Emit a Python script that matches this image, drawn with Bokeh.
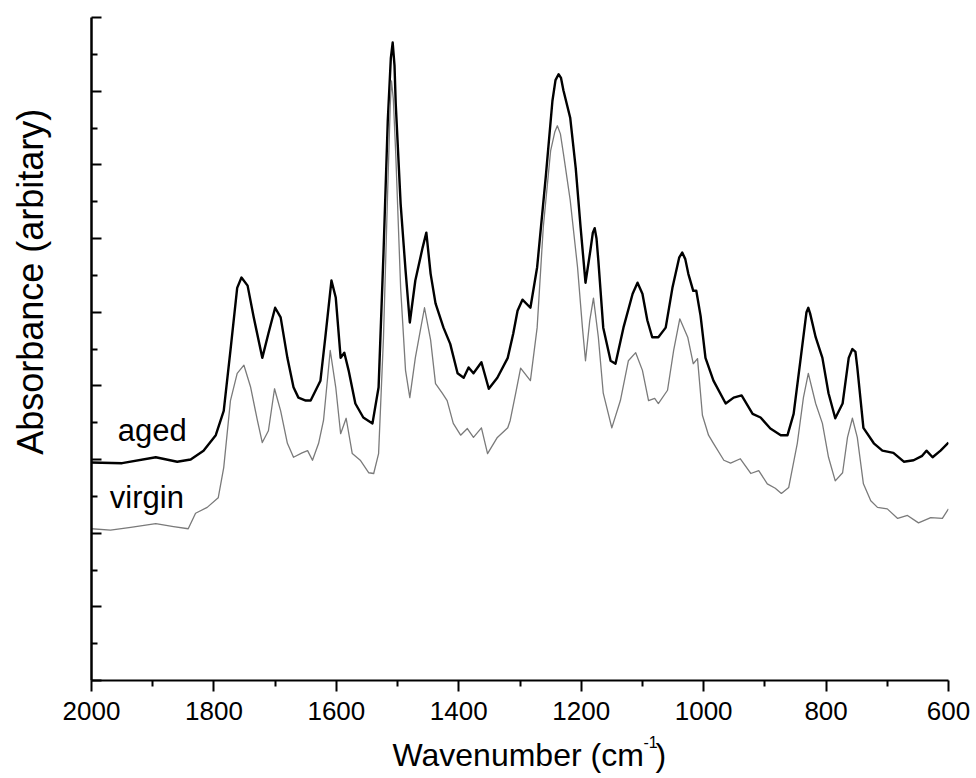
from bokeh.plotting import figure
from bokeh.layouts import row, column
from bokeh.models import Range1d, FixedTicker, Label, CustomJSTickFormatter
from bokeh.embed import file_html
from bokeh.resources import INLINE

# ---- data ----
aged_wn = [2000, 1950, 1895, 1860, 1838, 1817, 1797, 1784, 1773, 1762, 1755, 1745, 1735, 1721,
           1711, 1700, 1691, 1680, 1670, 1662, 1650, 1642, 1626, 1618, 1608, 1601, 1593, 1587,
           1580, 1569, 1556, 1541, 1531, 1523, 1516, 1511, 1508, 1505, 1503, 1495, 1487, 1480,
           1471, 1459, 1453, 1446, 1438, 1425, 1414, 1402, 1392, 1384, 1376, 1363, 1351, 1337,
           1320, 1311, 1304, 1296, 1283, 1272, 1258, 1247, 1242, 1237, 1233, 1229, 1218, 1209,
           1201, 1193, 1185, 1181, 1178, 1175, 1172, 1164, 1152, 1144, 1131, 1116, 1108, 1100,
           1092, 1084, 1074, 1062, 1051, 1040, 1035, 1030, 1025, 1017, 1012, 1005, 997, 984, 964,
           951, 938, 920, 907, 891, 874, 863, 853, 842, 832, 829, 826, 817, 806, 796, 785, 773,
           763, 757, 752, 749, 739, 722, 708, 690, 673, 657, 643, 636, 626, 613, 600]
aged_abs = [2.96, 2.95, 3.03, 2.97, 3.00, 3.12, 3.33, 3.66, 4.48, 5.33, 5.47, 5.36, 4.93, 4.38,
            4.71, 5.06, 4.93, 4.38, 3.98, 3.84, 3.80, 3.80, 4.07, 4.66, 5.43, 5.20, 4.38, 4.45,
            4.21, 3.76, 3.57, 3.49, 3.98, 5.80, 7.60, 8.45, 8.66, 8.35, 7.83, 6.47, 5.57, 4.86,
            5.43, 5.88, 6.08, 5.52, 5.12, 4.79, 4.57, 4.17, 4.11, 4.25, 4.17, 4.32, 3.96, 4.11,
            4.38, 4.71, 5.02, 5.17, 5.06, 5.61, 6.83, 7.87, 8.15, 8.23, 8.18, 8.01, 7.64, 6.96,
            6.15, 5.40, 5.84, 6.08, 6.14, 6.00, 5.70, 4.79, 4.34, 4.30, 4.79, 5.25, 5.40, 5.25,
            4.89, 4.66, 4.66, 4.79, 5.33, 5.74, 5.81, 5.72, 5.52, 5.29, 5.29, 4.95, 4.38, 4.07,
            3.76, 3.84, 3.87, 3.62, 3.57, 3.42, 3.33, 3.33, 3.62, 4.34, 5.00, 5.06, 4.98, 4.66,
            4.38, 3.90, 3.56, 3.76, 4.38, 4.50, 4.46, 4.25, 3.43, 3.22, 3.12, 3.09, 2.97, 2.99,
            3.05, 3.12, 3.03, 3.12, 3.23]

virgin_wn = [2000, 1969, 1936, 1895, 1866, 1842, 1830, 1811, 1793, 1784, 1773, 1762, 1751, 1740,
             1729, 1721, 1711, 1701, 1691, 1680, 1670, 1656, 1647, 1639, 1629, 1621, 1610, 1601,
             1593, 1584, 1574, 1561, 1547, 1539, 1531, 1523, 1516, 1512, 1510, 1507, 1503, 1495,
             1487, 1480, 1471, 1462, 1456, 1446, 1438, 1427, 1419, 1409, 1397, 1386, 1376, 1363,
             1353, 1337, 1320, 1316, 1307, 1299, 1283, 1272, 1262, 1250, 1243, 1239, 1234, 1229,
             1218, 1206, 1198, 1193, 1186, 1180, 1172, 1164, 1150, 1136, 1123, 1111, 1100, 1090,
             1080, 1074, 1059, 1049, 1039, 1026, 1017, 1010, 1002, 992, 984, 967, 956, 940, 923,
             910, 896, 883, 873, 861, 847, 837, 829, 817, 806, 796, 785, 773, 765, 757, 749, 739,
             727, 716, 700, 683, 667, 649, 629, 610, 600]
virgin_abs = [2.06, 2.04, 2.08, 2.13, 2.09, 2.06, 2.27, 2.35, 2.48, 2.89, 3.80, 4.17, 4.28, 3.98,
              3.53, 3.23, 3.39, 3.96, 3.66, 3.22, 3.03, 3.09, 3.12, 2.99, 3.22, 3.53, 4.48, 3.98,
              3.35, 3.56, 3.08, 2.99, 2.82, 2.81, 3.08, 4.66, 6.69, 7.80, 8.14, 7.90, 7.15, 5.33,
              4.21, 3.84, 4.38, 4.79, 5.06, 4.62, 4.03, 3.90, 3.80, 3.49, 3.33, 3.42, 3.30, 3.43,
              3.08, 3.30, 3.43, 3.53, 3.90, 4.24, 4.07, 4.79, 6.15, 7.19, 7.45, 7.53, 7.42, 7.15,
              6.52, 5.61, 4.79, 4.34, 4.89, 5.19, 4.66, 3.90, 3.43, 3.80, 4.34, 4.45, 4.21, 3.80,
              3.83, 3.76, 3.94, 4.48, 4.91, 4.66, 4.30, 4.37, 3.60, 3.33, 3.22, 2.99, 2.95, 3.01,
              2.81, 2.85, 2.67, 2.61, 2.54, 2.62, 3.22, 3.84, 4.17, 3.76, 3.49, 3.03, 2.71, 2.82,
              3.30, 3.56, 3.30, 2.67, 2.44, 2.35, 2.33, 2.20, 2.24, 2.14, 2.21, 2.20, 2.33]

x_ticks = [2000, 1800, 1600, 1400, 1200, 1000, 800, 600]
x_minor = [1900, 1700, 1500, 1300, 1100, 900, 700]
y_ticks = [0, 1, 2, 3, 4, 5, 6, 7, 8, 9]
y_minor = [0.5, 1.5, 2.5, 3.5, 4.5, 5.5, 6.5, 7.5, 8.5]

FONT = "Liberation Sans"
W, H = 976, 778
TOP_H = 730   # height of the row holding the plot
LW = 55       # width of the narrow panel that carries the y title


def blank(width, height, yr):
    f = figure(width=width, height=height, output_backend="svg", toolbar_location=None,
               x_range=Range1d(0, width), y_range=yr, min_border=0,
               x_axis_location=None, y_axis_location=None)
    f.outline_line_color = None
    f.grid.visible = False
    return f


# narrow panel with the rotated y-axis title (pixel coordinates, y downward)
t = blank(LW, TOP_H, Range1d(TOP_H, 0))
t.add_layout(Label(x=30, y=291, text="Absorbance (arbitary)", text_font=FONT,
                   text_font_size="36px", text_align="center", text_baseline="middle",
                   angle=1.5707963, text_color="black"))

# main plot
p = figure(width=W - LW, height=TOP_H, output_backend="svg", toolbar_location=None,
           x_range=Range1d(2000, 600), y_range=Range1d(0, 9),
           min_border_left=91 - LW, min_border_right=28, min_border_top=17,
           min_border_bottom=TOP_H - 680)
p.outline_line_color = None
p.grid.visible = False

p.line(aged_wn, aged_abs, line_color="black", line_width=2.4, line_join="round")
p.line(virgin_wn, virgin_abs, line_color="#7a7a7a", line_width=1.3, line_join="round")

xa = p.xaxis[0]
xa.ticker = FixedTicker(ticks=x_ticks, minor_ticks=x_minor)
xa.axis_line_width = 2
xa.major_tick_line_width = 2
xa.minor_tick_line_width = 2
xa.major_tick_in = 0
xa.major_tick_out = 11
xa.minor_tick_in = 0
xa.minor_tick_out = 6
xa.major_label_text_font = FONT
xa.major_label_text_font_size = "26px"
xa.major_label_text_color = "black"
xa.major_label_standoff = 10

ya = p.yaxis[0]
ya.ticker = FixedTicker(ticks=y_ticks, minor_ticks=y_minor)
ya.formatter = CustomJSTickFormatter(code="return ''")
ya.axis_line_width = 2.5
ya.major_tick_line_width = 2
ya.minor_tick_line_width = 2
ya.major_tick_in = 10
ya.major_tick_out = 0
ya.minor_tick_in = 6
ya.minor_tick_out = 0

# series labels
p.add_layout(Label(x=1957, y=3.40, text="aged", text_font=FONT, text_font_size="31px",
                   text_baseline="alphabetic", text_color="black"))
p.add_layout(Label(x=1970, y=2.48, text="virgin", text_font=FONT, text_font_size="31px",
                   text_baseline="alphabetic", text_color="black"))

# strip under the plot with the x-axis title (pixel coordinates, y downward from page top)
b = blank(W, H - TOP_H, Range1d(H, TOP_H))
b.add_layout(Label(x=392, y=754, text="Wavenumber (cm", text_font=FONT, text_font_size="32px",
                   text_baseline="alphabetic", text_color="black"))
b.add_layout(Label(x=643, y=741, text="-1", text_font=FONT, text_font_size="16px",
                   text_baseline="alphabetic", text_color="black"))
b.add_layout(Label(x=655, y=754, text=")", text_font=FONT, text_font_size="32px",
                   text_baseline="alphabetic", text_color="black"))

layout = column(row(t, p, spacing=0), b, spacing=0)
open("out.html", "w").write(file_html(layout, INLINE))
